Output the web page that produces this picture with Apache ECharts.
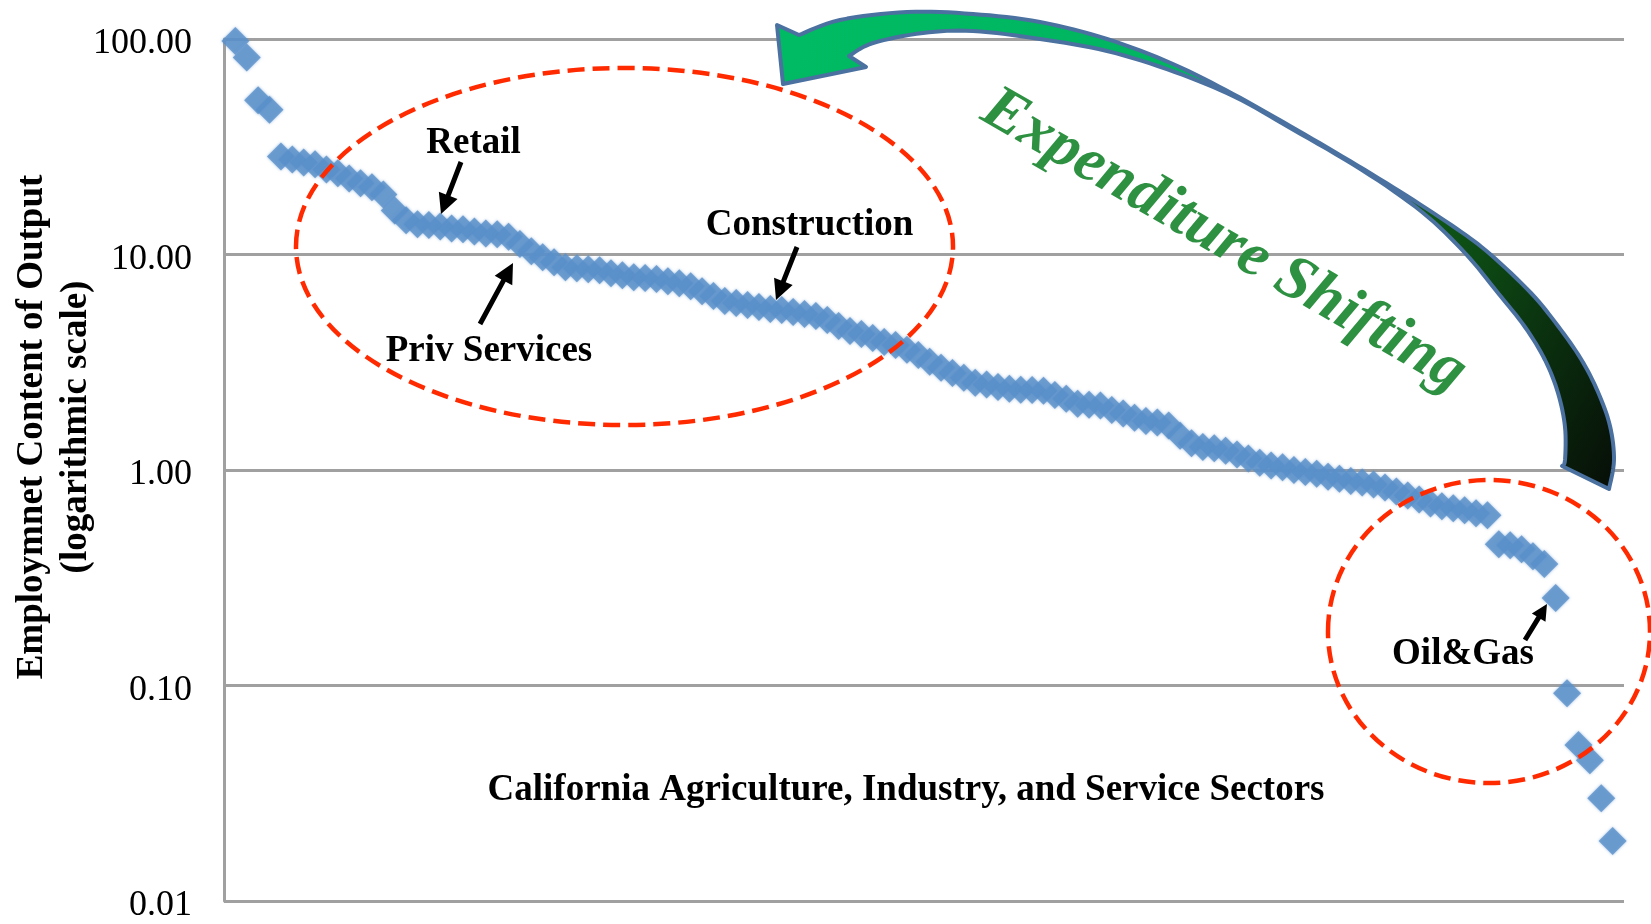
<!DOCTYPE html>
<html>
<head>
<meta charset="utf-8">
<script src="https://cdn.jsdelivr.net/npm/echarts@6/dist/echarts.min.js"></script>
<style>
    html, body { margin: 0; padding: 0; background: #fff; }
    #chart { width: 1651px; height: 924px; }
</style>
</head>
<body>
<div id="chart"></div>
<script>
// employment content of output per sector, sorted high -> low (log scale)
const intensity = [
    98, 82, 52, 47, 28.5, 27.6, 26.7, 26.2, 24.8, 23.8,
    22.5, 21.4, 20.5, 19.0, 16.0, 14.4, 13.8, 13.7, 13.5, 13.2,
    13.1, 12.8, 12.5, 12.4, 12.1, 11.2, 10.35, 9.71, 9.21, 8.73,
    8.64, 8.55, 8.46, 8.19, 8.02, 7.85, 7.77, 7.69, 7.52, 7.36,
    7.13, 6.76, 6.41, 6.08, 5.95, 5.83, 5.70, 5.58, 5.52, 5.41,
    5.29, 5.18, 4.97, 4.66, 4.42, 4.28, 4.10, 3.93, 3.80, 3.61,
    3.42, 3.18, 2.98, 2.82, 2.68, 2.54, 2.49, 2.43, 2.38, 2.36,
    2.35, 2.33, 2.23, 2.14, 2.03, 2.01, 1.99, 1.90, 1.83, 1.75,
    1.69, 1.66, 1.61, 1.44, 1.33, 1.28, 1.26, 1.23, 1.18, 1.13,
    1.08, 1.05, 1.03, 1.00, 0.98, 0.96, 0.93, 0.91, 0.89, 0.875,
    0.857, 0.83, 0.795, 0.762, 0.73, 0.70, 0.678, 0.664, 0.65, 0.63,
    0.616, 0.452, 0.448, 0.429, 0.398, 0.366, 0.255, 0.092, 0.053, 0.045,
    0.030, 0.019
];
const yTicks = [0.01, 0.1, 1, 10, 100];
const xMax = 123;

const serif = 'Liberation Serif';
const red = '#ff2a00';

// catmull-rom through a few traced points, for the big curved arrow
function sampleCurve(pts, steps) {
    const out = [];
    for (let i = 0; i < pts.length - 1; i++) {
        const p0 = pts[Math.max(i - 1, 0)],
            p1 = pts[i],
            p2 = pts[i + 1],
            p3 = pts[Math.min(i + 2, pts.length - 1)];
        for (let s = 0; s < steps; s++) {
            const t = s / steps, t2 = t * t, t3 = t2 * t;
            out.push([0, 1].map((k) => 0.5 * (2 * p1[k] + (-p0[k] + p2[k]) * t +
                (2 * p0[k] - 5 * p1[k] + 4 * p2[k] - p3[k]) * t2 +
                (-p0[k] + 3 * p1[k] - 3 * p2[k] + p3[k]) * t3)));
        }
    }
    out.push(pts[pts.length - 1]);
    return out;
}

function arrowPts(x1, y1, x2, y2, w, hl, hw) {
    const dx = x2 - x1, dy = y2 - y1, len = Math.hypot(dx, dy);
    const ux = dx / len, uy = dy / len, nx = -uy, ny = ux;
    const bx = x2 - ux * hl, by = y2 - uy * hl;
    return [
        [x1 + nx * w / 2, y1 + ny * w / 2],
        [bx + nx * w / 2, by + ny * w / 2],
        [bx + nx * hw / 2, by + ny * hw / 2],
        [x2, y2],
        [bx - nx * hw / 2, by - ny * hw / 2],
        [bx - nx * w / 2, by - ny * w / 2],
        [x1 - nx * w / 2, y1 - ny * w / 2],
    ];
}

// traced outline of the "expenditure shifting" arrow
const outerEdge = [
    [799, 35], [840, 20], [907, 12], [973, 14], [1040, 22], [1107, 39],
    [1173, 64], [1233, 94], [1290, 126], [1350, 161], [1407, 196],
    [1457, 229], [1490, 254], [1531, 293], [1558, 326], [1581, 359],
    [1598, 392], [1610, 426], [1614, 460], [1609, 489],
];
const innerEdge = [
    [1562, 466], [1565, 460], [1565, 427], [1558, 393], [1545, 360],
    [1525, 327], [1498, 293], [1465, 253], [1422, 212], [1362, 170],
    [1292, 129], [1235, 97], [1175, 72], [1107, 51], [1040, 39],
    [973, 31], [923, 33], [873, 43], [849, 56],
];
const headTip = [[866, 67], [783, 84], [777, 25]];
const bigArrow = sampleCurve(outerEdge, 8).concat(sampleCurve(innerEdge, 8), headTip);

function label(text, x, y) {
    return {
        type: 'text',
        x: x,
        y: y,
        z: 12,
        style: {
            text: text,
            fill: '#000',
            font: 'bold 37px "' + serif + '"',
            textAlign: 'center',
            textVerticalAlign: 'middle',
        },
    };
}

function blackArrow(x1, y1, x2, y2, head) {
    return {
        type: 'polygon',
        z: 11,
        shape: { points: arrowPts(x1, y1, x2, y2, 5, head, head) },
        style: { fill: '#000' },
    };
}

const option = {
    animation: false,
    backgroundColor: '#fff',
    grid: {
        left: 224,
        top: 39,
        width: 1400,
        height: 865,
    },
    xAxis: {
        type: 'value',
        min: 0,
        max: xMax,
        show: false,
    },
    yAxis: {
        type: 'log',
        logBase: 10,
        min: yTicks[0],
        max: yTicks[yTicks.length - 1],
        axisLine: {
            show: true,
            lineStyle: { color: '#a0a0a0', width: 3 },
        },
        axisTick: { show: false },
        axisLabel: {
            margin: 32,
            color: '#000',
            fontFamily: serif,
            fontSize: 36,
            formatter: (v) => '{v|' + Number(v).toFixed(2) + '}',
            rich: {
                v: {
                    color: '#000',
                    fontFamily: serif,
                    fontSize: 36,
                    padding: [10, 0, 0, 0],
                },
            },
        },
        splitLine: {
            show: true,
            lineStyle: { color: '#a0a0a0', width: 3 },
        },
    },
    series: [
        {
            type: 'scatter',
            symbol: 'diamond',
            symbolSize: 28,
            itemStyle: {
                color: '#5a90c9',
                shadowBlur: 3,
                shadowColor: 'rgba(90,144,201,0.7)',
            },
            data: intensity.map((v, i) => [i + 1, v]),
            z: 2,
        },
    ],
    graphic: [
        {
            type: 'polygon',
            z: 9,
            shape: { points: bigArrow },
            style: {
                fill: new echarts.graphic.LinearGradient(800, 40, 1615, 490, [
                    { offset: 0, color: '#00bb63' },
                    { offset: 0.45, color: '#00b35e' },
                    { offset: 0.56, color: '#13701f' },
                    { offset: 0.75, color: '#0d4a14' },
                    { offset: 1, color: '#070d07' },
                ], true),
                stroke: '#4a71a0',
                lineWidth: 4,
                lineJoin: 'round',
            },
        },
        {
            type: 'ellipse',
            z: 10,
            shape: { cx: 624.5, cy: 246.5, rx: 328.5, ry: 178.5 },
            style: { fill: 'none', stroke: red, lineWidth: 4.5, lineDash: [17, 8] },
        },
        {
            type: 'ellipse',
            z: 10,
            shape: { cx: 1489, cy: 631.5, rx: 161, ry: 151.5 },
            style: { fill: 'none', stroke: red, lineWidth: 4.5, lineDash: [17, 8] },
        },
        blackArrow(461, 162, 441, 214, 20),
        blackArrow(480, 324, 513, 263, 20),
        blackArrow(797, 247, 776, 300, 20),
        blackArrow(1525, 640, 1547, 604, 16),
        label('Retail', 473.5, 143.5),
        label('Construction', 809.5, 225.5),
        label('Priv Services', 489, 351.5),
        label('Oil&Gas', 1463, 654),
        label('California Agriculture, Industry, and Service Sectors', 906, 790.5),
        {
            type: 'text',
            x: 54,
            y: 427,
            rotation: Math.PI / 2,
            z: 12,
            style: {
                text: 'Employmnet Content of Output\n(logarithmic scale)',
                fill: '#000',
                font: 'bold 37px "' + serif + '"',
                lineHeight: 44,
                textAlign: 'center',
                textVerticalAlign: 'middle',
            },
        },
        {
            type: 'text',
            x: 1224,
            y: 241,
            rotation: -30 * Math.PI / 180,
            z: 12,
            style: {
                text: 'Expenditure Shifting',
                fill: '#2e9142',
                font: 'italic bold 63px "' + serif + '"',
                textAlign: 'center',
                textVerticalAlign: 'middle',
            },
        },
    ],
};

const myChart = echarts.init(document.getElementById('chart'), null, { renderer: 'canvas' });
myChart.setOption(option);
</script>
</body>
</html>
